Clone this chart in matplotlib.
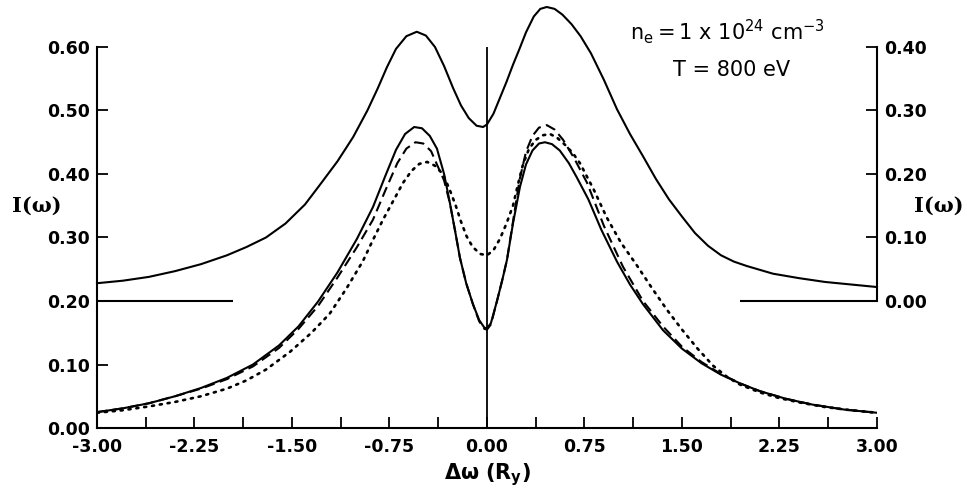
import numpy as np
import matplotlib
matplotlib.use("Agg")
import matplotlib.pyplot as plt
from matplotlib.ticker import MultipleLocator, FormatStrFormatter

plt.rcParams["font.family"] = ["DejaVu Sans"]

# upper profile (left-axis units; right axis = left - 0.20)
x_top = [-3.0, -2.8, -2.6, -2.4, -2.2, -2.0, -1.85, -1.7, -1.55, -1.4, -1.285, -1.15,
         -1.03, -0.92, -0.84, -0.77, -0.70, -0.62, -0.54, -0.47, -0.40, -0.33, -0.26,
         -0.20, -0.14, -0.08, -0.03, 0.0, 0.05, 0.10, 0.15, 0.20, 0.25, 0.30, 0.36,
         0.41, 0.46, 0.52, 0.58, 0.65, 0.72, 0.80, 0.90, 1.0, 1.1, 1.2, 1.3, 1.4, 1.5,
         1.6, 1.7, 1.8, 1.9, 2.0, 2.2, 2.4, 2.6, 2.8, 3.0]
i_top = [0.228, 0.232, 0.238, 0.247, 0.258, 0.272, 0.285, 0.300, 0.322, 0.352, 0.383, 0.420,
         0.458, 0.500, 0.535, 0.568, 0.597, 0.617, 0.624, 0.618, 0.600, 0.570, 0.535,
         0.508, 0.488, 0.476, 0.474, 0.478, 0.495, 0.520, 0.545, 0.572, 0.597, 0.623, 0.648,
         0.660, 0.663, 0.660, 0.651, 0.636, 0.617, 0.590, 0.548, 0.502, 0.463, 0.428, 0.392,
         0.360, 0.333, 0.307, 0.287, 0.272, 0.262, 0.255, 0.243, 0.236, 0.230, 0.226, 0.222]

x_solid = [-3.0, -2.8, -2.6, -2.4, -2.2, -2.0, -1.8, -1.6, -1.45, -1.3, -1.15, -1.0,
           -0.877, -0.78, -0.70, -0.63, -0.56, -0.50, -0.44, -0.385, -0.33, -0.285,
           -0.245, -0.208, -0.16, -0.108, -0.06, -0.02, 0.0, 0.03, 0.077, 0.12, 0.154,
           0.20, 0.254, 0.30, 0.35, 0.40, 0.446, 0.50, 0.56, 0.63, 0.69, 0.78, 0.88,
           1.0, 1.1, 1.2, 1.354, 1.5, 1.65, 1.8, 1.95, 2.1, 2.3, 2.5, 2.75, 3.0]
i_solid = [0.025, 0.031, 0.039, 0.050, 0.063, 0.079, 0.100, 0.130, 0.160, 0.199, 0.245, 0.298,
           0.348, 0.398, 0.438, 0.463, 0.474, 0.472, 0.460, 0.440, 0.400, 0.354,
           0.310, 0.268, 0.228, 0.195, 0.170, 0.158, 0.157, 0.165, 0.200, 0.235, 0.265,
           0.322, 0.380, 0.415, 0.437, 0.448, 0.450, 0.447, 0.437, 0.417, 0.395, 0.360, 0.312,
           0.262, 0.226, 0.195, 0.154, 0.125, 0.102, 0.084, 0.070, 0.058, 0.046, 0.037, 0.029, 0.024]

x_dash = [-3.0, -2.8, -2.6, -2.4, -2.2, -2.0, -1.8, -1.6, -1.45, -1.3, -1.15, -1.0,
          -0.877, -0.78, -0.69, -0.62, -0.55, -0.49, -0.43, -0.385, -0.33, -0.285,
          -0.245, -0.208, -0.16, -0.108, -0.06, -0.02, 0.0, 0.03, 0.077, 0.12, 0.154,
          0.20, 0.25, 0.30, 0.35, 0.40, 0.46, 0.52, 0.585, 0.67, 0.77, 0.9, 1.046,
          1.2, 1.354, 1.5, 1.65, 1.8, 1.95, 2.1, 2.3, 2.5, 2.75, 3.0]
i_dash = [0.025, 0.031, 0.039, 0.050, 0.062, 0.077, 0.097, 0.126, 0.156, 0.192, 0.237, 0.285,
          0.328, 0.375, 0.417, 0.440, 0.450, 0.448, 0.436, 0.415, 0.390, 0.354,
          0.310, 0.268, 0.228, 0.195, 0.168, 0.156, 0.155, 0.163, 0.200, 0.235, 0.265,
          0.325, 0.390, 0.435, 0.460, 0.473, 0.477, 0.470, 0.454, 0.425, 0.386, 0.318, 0.254,
          0.200, 0.160, 0.128, 0.104, 0.085, 0.070, 0.058, 0.046, 0.037, 0.029, 0.024]

x_dot = [-3.0, -2.8, -2.6, -2.4, -2.2, -2.0, -1.85, -1.7, -1.515, -1.35, -1.21, -1.08,
         -0.954, -0.88, -0.80, -0.72, -0.646, -0.58, -0.52, -0.46, -0.40, -0.34, -0.29,
         -0.24, -0.20, -0.157, -0.11, -0.05, 0.0, 0.05, 0.1, 0.15, 0.2, 0.24, 0.277,
         0.32, 0.37, 0.43, 0.485, 0.54, 0.6, 0.66, 0.715, 0.82, 0.92, 1.03, 1.15, 1.27,
         1.385, 1.5, 1.62, 1.74, 1.85, 1.95, 2.1, 2.25, 2.41, 2.6, 2.8, 3.0]
i_dot = [0.024, 0.028, 0.034, 0.041, 0.050, 0.062, 0.075, 0.092, 0.120, 0.150, 0.180, 0.220,
         0.263, 0.295, 0.328, 0.358, 0.386, 0.405, 0.416, 0.419, 0.413, 0.400, 0.377,
         0.350, 0.325, 0.302, 0.285, 0.274, 0.272, 0.280, 0.298, 0.322, 0.350, 0.385, 0.415,
         0.438, 0.453, 0.461, 0.463, 0.457, 0.446, 0.433, 0.417, 0.376, 0.332, 0.292, 0.257, 0.220,
         0.186, 0.155, 0.125, 0.098, 0.080, 0.068, 0.056, 0.047, 0.040, 0.033, 0.028, 0.024]

base_segments = [(-3.0, -1.95), (1.95, 3.0)]

fig = plt.figure(figsize=(9.67, 4.91), dpi=100)
ax = fig.add_axes([0.1003, 0.1283, 0.8066, 0.776])
ax2 = ax.twinx()

lw = 1.5
ax.plot(x_solid, i_solid, color="black", lw=lw, solid_joinstyle="round")
ax.plot(x_dash, i_dash, color="black", lw=lw, linestyle=(0, (5, 2.6)))
ax.plot(x_dot, i_dot, color="black", lw=1.9, linestyle=(0, (0.8, 2.2)),
        dash_capstyle="round")
ax.axvline(0.0, color="black", lw=1.3)

i_top_right = np.array(i_top) - 0.20
ax2.plot(x_top, i_top_right, color="black", lw=lw, clip_on=False,
         solid_joinstyle="round")
for a, b in base_segments:
    ax2.hlines(0.0, a, b, color="black", lw=lw)

ax.set_xlim(-3.0, 3.0)
ax.set_ylim(0.0, 0.60)
ax2.set_ylim(-0.20, 0.40)

ax.xaxis.set_major_locator(MultipleLocator(0.75))
ax.xaxis.set_minor_locator(MultipleLocator(0.375))
ax.yaxis.set_major_locator(MultipleLocator(0.10))
ax.xaxis.set_major_formatter(FormatStrFormatter("%.2f"))
ax.yaxis.set_major_formatter(FormatStrFormatter("%.2f"))
ax2.set_yticks([0.0, 0.1, 0.2, 0.3, 0.4])
ax2.yaxis.set_major_formatter(FormatStrFormatter("%.2f"))

tick_font = dict(labelsize=12.5)
ax.tick_params(axis="x", which="both", direction="in", length=8, width=1.3, pad=7, **tick_font)
ax.tick_params(axis="y", which="both", direction="in", length=8, width=1.3, pad=5, **tick_font)
ax2.tick_params(axis="y", direction="in", length=8, width=1.3, pad=5, **tick_font)
for lab in ax.get_xticklabels() + ax.get_yticklabels() + ax2.get_yticklabels():
    lab.set_fontweight("bold")

for s in ["top", "right"]:
    ax.spines[s].set_visible(False)
for s in ["top", "left", "bottom"]:
    ax2.spines[s].set_visible(False)
ax2.spines["right"].set_bounds(0.0, 0.40)
ax.spines["left"].set_linewidth(1.5)
ax.spines["bottom"].set_linewidth(1.5)
ax2.spines["right"].set_linewidth(1.5)

fig.text(0.038, 0.58, "I(\u03c9)", fontsize=15, fontweight="bold",
         family=["DejaVu Serif"], ha="center", va="center")
fig.text(0.971, 0.58, "I(\u03c9)", fontsize=15, fontweight="bold",
         family=["DejaVu Serif"], ha="center", va="center")

ax.set_xlabel(r"$\mathbf{\Delta\omega\ (R_y)}$", fontsize=15, labelpad=4)

fig.text(0.752, 0.935, r"$\mathregular{n_e = 1\ x\ 10^{24}\ cm^{-3}}$", fontsize=15,
         ha="center", va="center")
fig.text(0.757, 0.857, "T = 800 eV", fontsize=15, ha="center", va="center")

fig.savefig("out.png", dpi=100)
